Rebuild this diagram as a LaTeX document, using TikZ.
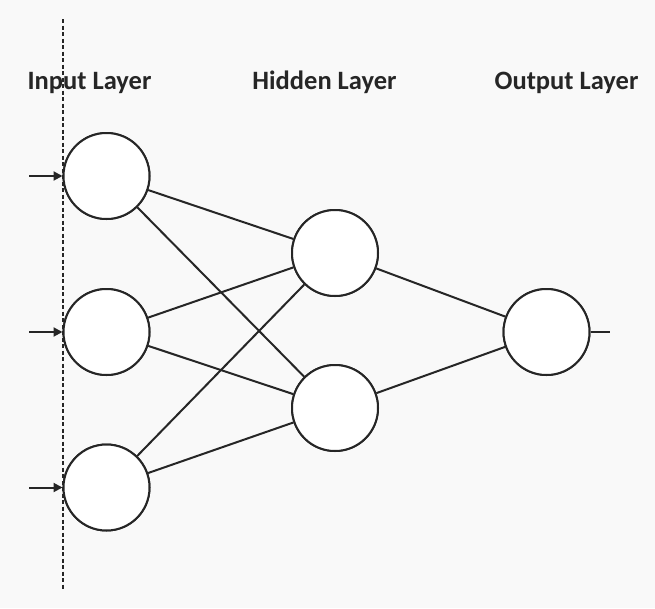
\documentclass[tikz,border=0pt]{standalone}
\usepackage{fontspec}
\setmainfont{Carlito}
\usetikzlibrary{arrows.meta}
\definecolor{bg}{HTML}{F9F9F9}
\definecolor{ink}{HTML}{262626}
\begin{document}
\begin{tikzpicture}[x=1pt,y=-1pt,
  neuron/.style={circle,draw=ink,line width=2pt,fill=white,minimum size=86pt,inner sep=0pt},
  conn/.style={draw=ink,line width=2pt},
  tip/.style={-{Triangle[length=9pt,width=9pt]}},
  layerlabel/.style={font=\fontsize{26.5}{30}\selectfont\bfseries,text=ink,anchor=base,inner sep=0pt}]
\fill[bg] (0,0) rectangle (655,608);
\useasboundingbox (0,0) rectangle (655,608);
\draw[ink,line width=1.6pt,dash pattern=on 4pt off 2.5pt] (63,19) -- (63,590);
\node[layerlabel] (lin) at (89.5,89) {Input Layer};
\node[layerlabel] (lhid) at (324.5,89) {Hidden Layer};
\node[layerlabel] (lout) at (566.5,89) {Output Layer};
\node[neuron] (i1) at (106.5,176) {};
\node[neuron] (i2) at (106.5,332) {};
\node[neuron] (i3) at (106.5,487.5) {};
\node[neuron] (h1) at (335,253) {};
\node[neuron] (h2) at (335,408) {};
\node[neuron] (o1) at (546.5,332) {};
\coordinate (a1) at (29,176);
\coordinate (a2) at (29,332);
\coordinate (a3) at (29,487.5);
\coordinate (oe) at (610,332);
\foreach \i in {i1,i2,i3}{
  \foreach \h in {h1,h2}{
    \draw[conn] (\i) -- (\h);
  }
}
\draw[conn] (h1) -- (o1);
\draw[conn] (h2) -- (o1);
\draw[conn] (o1.east) -- (oe);
\foreach \n in {i1,i2,i3,h1,h2,o1}{
  \node[neuron] at (\n) {};
}
\draw[conn,tip] (a1) -- (i1.west);
\draw[conn,tip] (a2) -- (i2.west);
\draw[conn,tip] (a3) -- (i3.west);
\end{tikzpicture}
\end{document}
